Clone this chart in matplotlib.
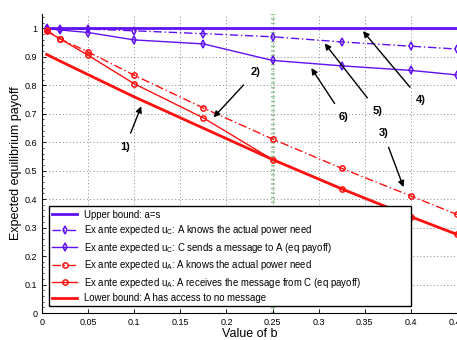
import matplotlib
matplotlib.use("Agg")
import matplotlib.pyplot as plt
import numpy as np
from matplotlib.ticker import MultipleLocator, FixedLocator

plt.rcParams['font.family'] = ['Liberation Sans', 'DejaVu Sans']
plt.rcParams['mathtext.fontset'] = 'custom'
plt.rcParams['mathtext.rm'] = 'Liberation Sans'
plt.rcParams['mathtext.it'] = 'Liberation Sans'

b = [0.005, 0.02, 0.05, 0.1, 0.175, 0.25, 0.325, 0.4, 0.45]
upper = [1, 1, 1, 1, 1, 1, 1, 1, 1]
uc_knows = [1.0, 0.998, 0.997, 0.991, 0.981, 0.970, 0.952, 0.937, 0.927]
uc_message = [0.998, 0.994, 0.985, 0.959, 0.945, 0.887, 0.868, 0.852, 0.836]
ua_knows = [0.993, 0.962, 0.917, 0.835, 0.720, 0.611, 0.508, 0.411, 0.346]
ua_message = [0.990, 0.962, 0.905, 0.805, 0.685, 0.539, 0.436, 0.338, 0.276]
lower = [0.908, 0.884, 0.837, 0.759, 0.649, 0.539, 0.436, 0.338, 0.276]

xticks = [0, 0.05, 0.1, 0.15, 0.2, 0.25, 0.3, 0.35, 0.4, 0.45]
xticklabels = ['0', '0.05', '0.1', '0.15', '0.2', '0.25', '0.3', '0.35', '0.4', '0.45']
yticks = [0, 0.1, 0.2, 0.3, 0.4, 0.5, 0.6, 0.7, 0.8, 0.9, 1]
yticklabels = ['0', '0.1', '0.2', '0.3', '0.4', '0.5', '0.6', '0.7', '0.8', '0.9', '1']

labels = [
    'Upper bound: a=s',
    r'Ex ante expected u$_\mathrm{C}$: A knows the actual power need',
    r'Ex ante expected u$_\mathrm{C}$: C sends a message to A (eq payoff)',
    r'Ex ante expected u$_\mathrm{A}$: A knows the actual power need',
    r'Ex ante expected u$_\mathrm{A}$: A receives the message from C (eq payoff)',
    'Lower bound: A has access to no message',
]

# annotations: (label, text position, arrow tip)
annotations = [
    ('1)', (0.090, 0.582), (0.1076, 0.726)),
    ('2)', (0.2315, 0.846), (0.186, 0.687)),
    ('3)', (0.370, 0.632), (0.392, 0.442)),
    ('4)', (0.411, 0.747), (0.348, 0.990)),
    ('5)', (0.364, 0.709), (0.3065, 0.947)),
    ('6)', (0.327, 0.688), (0.292, 0.860)),
]

blue = '#6010f5'
red = '#ff1010'

fig = plt.figure(figsize=(4.57, 3.40), dpi=100)
ax = fig.add_axes([0.0919, 0.0794, 0.9081, 0.8794])

ax.axvline(0.25, color='#8cc88c', lw=3.0, linestyle=(0, (0.35, 0.75)), zorder=1)

ax.plot(b, upper, color=blue, lw=2.0, label=labels[0], zorder=3)
ax.plot(b, uc_knows, color=blue, lw=1.0, linestyle=(0, (6, 2, 1, 2)), marker='d',
        ms=3.8, mfc='none', mew=1.1, label=labels[1], zorder=3)
ax.plot(b, uc_message, color=blue, lw=1.0, marker='d', ms=3.8, mfc='none', mew=1.1,
        label=labels[2], zorder=3)
ax.plot(b, ua_knows, color=red, lw=1.0, linestyle=(0, (6, 2, 1, 2)), marker='o',
        ms=3.8, mfc='none', mew=1.1, label=labels[3], zorder=3)
ax.plot(b, ua_message, color=red, lw=1.0, marker='o', ms=3.8, mfc='none', mew=1.1,
        label=labels[4], zorder=3)
ax.plot(b, lower, color=red, lw=2.0, label=labels[5], zorder=3)

for txt, tpos, tip in annotations:
    ax.annotate(txt, xy=tip, xytext=tpos, fontsize=8, fontweight='bold',
                ha='center', va='center',
                arrowprops=dict(arrowstyle='-|>', color='black', lw=1.0,
                                mutation_scale=9, shrinkA=5, shrinkB=0))

ax.set_xlim(0, 0.45)
ax.set_ylim(0, 1.05)
ax.xaxis.set_major_locator(FixedLocator(xticks))
ax.set_xticklabels(xticklabels)
ax.yaxis.set_major_locator(FixedLocator(yticks))
ax.set_yticklabels(yticklabels)
ax.yaxis.set_minor_locator(MultipleLocator(0.02))
ax.tick_params(axis='both', which='major', direction='in', labelsize=6.5, length=3, width=0.6)
ax.tick_params(axis='y', which='minor', direction='in', length=1.5, width=0.5)
ax.grid(True, which='major', linestyle=(0, (1, 2.5)), color='#888888', lw=0.7)
ax.spines['top'].set_visible(False)
ax.spines['right'].set_visible(False)
for s in ['left', 'bottom']:
    ax.spines[s].set_linewidth(0.8)

ax.set_xlabel('Value of b', fontsize=9, labelpad=1)
ax.set_ylabel('Expected equilibrium payoff', fontsize=9, labelpad=2)

leg = ax.legend(loc='lower left', bbox_to_anchor=(0.017, 0.022, 0.872, 0.2),
                mode='expand', fontsize=6.9,
                frameon=True, fancybox=False, framealpha=1, edgecolor='black',
                handlelength=2.6, borderpad=0.35, labelspacing=0.36, handletextpad=0.7,
                borderaxespad=0)
leg.get_frame().set_linewidth(1.0)

fig.savefig('out.png', dpi=100)
